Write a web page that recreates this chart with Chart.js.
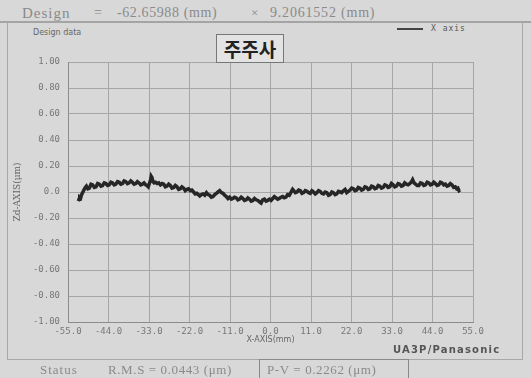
<!DOCTYPE html>
<html>
<head>
<meta charset="utf-8">
<script src="https://cdn.jsdelivr.net/npm/chart.js@4/dist/chart.umd.min.js"></script>
<style>
  html, body { margin: 0; padding: 0; }
  body { width: 531px; height: 378px; background: #d8d8d8; position: relative; overflow: hidden; }
  #plot { position: absolute; left: 0; top: 0; }
  .txt { position: absolute; white-space: nowrap; color: #8a8a8a; font-family: "Liberation Serif", serif; }
</style>
</head>
<body>
<div style="position:absolute;left:0;top:21px;width:531px;height:0;border-top:2px solid #a4a4a4;"></div>
<div style="position:absolute;left:7px;top:22px;width:514px;height:337px;border:1px solid #a8a8a8;border-top:none;"></div>

<div class="txt" style="left:22px;top:5px;font-size:15px;letter-spacing:1px;">Design</div>
<div class="txt" style="left:94px;top:5px;font-size:14px;">=</div>
<div class="txt" style="left:117px;top:5px;font-size:14px;letter-spacing:0.6px;">-62.65988 (mm)</div>
<div class="txt" style="left:251px;top:5px;font-size:13px;">×</div>
<div class="txt" style="left:270px;top:5px;font-size:14px;letter-spacing:0.8px;">9.2061552 (mm)</div>

<div class="txt" style="left:33px;top:28px;font-size:8px;color:#666;font-family:'DejaVu Sans',sans-serif;">Design data</div>
<div style="position:absolute;left:397px;top:28px;width:26px;height:0;border-top:2px solid #444;"></div>
<div class="txt" style="left:431px;top:24px;font-size:8px;color:#555;font-family:'DejaVu Sans Mono',monospace;letter-spacing:1px;">X axis</div>

<div style="position:absolute;left:216px;top:34px;width:66px;height:27px;border:1px solid #777;background:#e3e3e3;z-index:2;text-align:center;font:bold 19px 'Noto Sans CJK KR',sans-serif;line-height:27px;color:#222;">주주사</div>

<canvas id="plot" width="531" height="378"></canvas>

<div class="txt" style="left:393px;top:344px;font:bold 10px 'DejaVu Sans',sans-serif;letter-spacing:1.2px;color:#555;">UA3P/Panasonic</div>

<div class="txt" style="left:40px;top:362px;font-size:13px;letter-spacing:1px;">Status</div>
<div class="txt" style="left:108px;top:362px;font-size:13px;letter-spacing:0.6px;">R.M.S = 0.0443 (μm)</div>
<div style="position:absolute;left:259px;top:359px;width:148px;height:22px;border:1px solid #8a8a8a;"></div>
<div class="txt" style="left:267px;top:362px;font-size:13px;letter-spacing:0.6px;">P-V = 0.2262 (μm)</div>

<script>
// X-AXIS positions (mm)
const xValues = [
  -52.2, -52.0, -51.8, -51.55, -51.3, -50.95, -50.6, -50.3, -50.0, -49.6,
  -49.2, -48.75, -48.3, -47.85, -47.4, -46.95, -46.5, -46.05, -45.6, -45.15,
  -44.7, -44.25, -43.8, -43.35, -42.9, -42.45, -42.0, -41.55, -41.1, -40.65,
  -40.2, -39.75, -39.3, -38.85, -38.4, -37.95, -37.5, -37.05, -36.6, -36.15,
  -35.7, -35.25, -34.8, -34.35, -33.9, -33.55, -33.2, -32.9, -32.6, -32.4,
  -32.2, -31.9, -31.6, -31.2, -30.8, -30.35, -29.9, -29.45, -29.0, -28.55,
  -28.1, -27.65, -27.2, -26.75, -26.3, -25.85, -25.4, -24.95, -24.5, -24.05,
  -23.6, -23.15, -22.7, -22.25, -21.8, -21.35, -20.9, -20.45, -20.0, -19.6,
  -19.2, -18.75, -18.3, -17.85, -17.4, -16.95, -16.5, -16.05, -15.6, -15.15,
  -14.7, -14.25, -13.8, -13.35, -12.9, -12.45, -12.0, -11.55, -11.1, -10.65,
  -10.2, -9.75, -9.3, -8.85, -8.4, -7.95, -7.5, -7.05, -6.6, -6.15,
  -5.7, -5.25, -4.8, -4.35, -3.9, -3.45, -3.0, -2.55, -2.1, -1.65,
  -1.2, -0.75, -0.3, 0.15, 0.6, 1.05, 1.5, 1.95, 2.4, 2.85,
  3.3, 3.75, 4.2, 4.65, 5.1, 5.4, 5.7, 6.0, 6.3, 6.75,
  7.2, 7.65, 8.1, 8.55, 9.0, 9.45, 9.9, 10.35, 10.8, 11.25,
  11.7, 12.15, 12.6, 13.05, 13.5, 13.95, 14.4, 14.85, 15.3, 15.75,
  16.2, 16.65, 17.1, 17.55, 18.0, 18.45, 18.9, 19.35, 19.8, 20.25,
  20.7, 21.15, 21.6, 22.05, 22.5, 22.95, 23.4, 23.85, 24.3, 24.75,
  25.2, 25.65, 26.1, 26.55, 27.0, 27.45, 27.9, 28.35, 28.8, 29.25,
  29.7, 30.15, 30.6, 31.05, 31.5, 31.95, 32.4, 32.85, 33.3, 33.75,
  34.2, 34.65, 35.1, 35.55, 36.0, 36.45, 36.9, 37.35, 37.8, 38.2,
  38.6, 39.0, 39.4, 39.85, 40.3, 40.75, 41.2, 41.65, 42.1, 42.55,
  43.0, 43.45, 43.9, 44.35, 44.8, 45.25, 45.7, 46.15, 46.6, 47.05,
  47.5, 47.95, 48.4, 48.85, 49.3, 49.75, 50.2, 50.55, 50.9, 51.2,
  51.5
];

// Zd-AXIS deviation (um)
const zValues = [
  -0.07, -0.055, -0.04, -0.045, -0.02, 0.0, 0.02, 0.035, 0.045, 0.025,
  0.03, 0.06, 0.055, 0.035, 0.04, 0.065, 0.06, 0.045, 0.05, 0.07,
  0.065, 0.05, 0.055, 0.075, 0.07, 0.055, 0.06, 0.08, 0.075, 0.06,
  0.065, 0.085, 0.08, 0.065, 0.07, 0.085, 0.075, 0.06, 0.065, 0.08,
  0.07, 0.055, 0.06, 0.07, 0.055, 0.05, 0.04, 0.065, 0.09, 0.12,
  0.11, 0.08, 0.07, 0.075, 0.065, 0.07, 0.055, 0.065, 0.06, 0.04,
  0.045, 0.06, 0.05, 0.03, 0.035, 0.05, 0.04, 0.02, 0.025, 0.04,
  0.03, 0.01, 0.02, 0.025, 0.01, 0.015, 0.0, -0.015, -0.01, -0.02,
  -0.03, -0.02, -0.015, -0.025, -0.005, -0.02, -0.025, -0.04, -0.035, -0.02,
  -0.01, 0.0, 0.01, -0.005, -0.01, -0.025, -0.035, -0.05, -0.04, -0.055,
  -0.05, -0.04, -0.045, -0.06, -0.055, -0.04, -0.05, -0.065, -0.06, -0.045,
  -0.055, -0.07, -0.065, -0.05, -0.06, -0.065, -0.075, -0.085, -0.06, -0.055,
  -0.07, -0.065, -0.055, -0.065, -0.05, -0.035, -0.045, -0.055, -0.05, -0.04,
  -0.035, -0.045, -0.04, -0.02, -0.025, -0.01, 0.005, 0.02, 0.01, -0.005,
  0.0, 0.015, 0.01, -0.01, -0.005, 0.01, 0.005, -0.005, -0.01, 0.01,
  0.0, -0.015, -0.005, 0.01, 0.005, -0.01, -0.015, 0.0, -0.005, -0.025,
  -0.02, 0.0, -0.005, -0.02, -0.015, 0.005, 0.0, -0.005, 0.01, 0.02,
  -0.005, 0.005, 0.015, 0.03, 0.025, 0.01, 0.015, 0.035, 0.03, 0.015,
  0.02, 0.04, 0.035, 0.02, 0.025, 0.045, 0.04, 0.025, 0.03, 0.05,
  0.045, 0.03, 0.035, 0.055, 0.05, 0.035, 0.04, 0.065, 0.055, 0.04,
  0.045, 0.065, 0.06, 0.045, 0.05, 0.07, 0.06, 0.055, 0.065, 0.075,
  0.095, 0.07, 0.06, 0.05, 0.05, 0.07, 0.065, 0.05, 0.055, 0.075,
  0.07, 0.055, 0.06, 0.075, 0.065, 0.05, 0.055, 0.075, 0.07, 0.055,
  0.06, 0.045, 0.05, 0.065, 0.055, 0.035, 0.04, 0.025, 0.03, 0.01,
  0.015
];

const xTickStep = 11;
const yTickStep = 0.2;

const points = xValues.map((x, i) => ({ x: x, y: zValues[i] }));

const tickFont = { family: "'DejaVu Sans Mono', monospace", size: 9 };
const gridColor = '#a6a6a6';

new Chart(document.getElementById('plot').getContext('2d'), {
  type: 'scatter',
  data: {
    datasets: [{
      label: 'X axis',
      data: points,
      showLine: true,
      borderColor: '#262626',
      borderWidth: 3.5,
      pointRadius: 0,
      tension: 0
    }]
  },
  options: {
    responsive: false,
    animation: false,
    layout: { padding: { top: 62, right: 58, bottom: 32, left: 0 } },
    plugins: { legend: { display: false }, tooltip: { enabled: false } },
    scales: {
      x: {
        type: 'linear',
        min: -55,
        max: 55,
        afterFit: (s) => { s.height = 24; },
        ticks: {
          stepSize: xTickStep,
          padding: 4,
          color: '#777',
          font: tickFont,
          maxRotation: 0,
          callback: (v) => (Math.abs(v) < 1e-9 ? 0 : v).toFixed(1)
        },
        grid: { color: gridColor, drawTicks: false },
        border: { color: '#8c8c8c' },
        title: {
          display: true,
          text: 'X-AXIS(mm)',
          color: '#666',
          font: { family: "'DejaVu Sans', sans-serif", size: 8 },
          padding: { top: 0, bottom: 1 }
        }
      },
      y: {
        min: -1,
        max: 1,
        afterFit: (s) => { s.width = 68; },
        ticks: {
          stepSize: yTickStep,
          padding: 8,
          color: '#777',
          font: tickFont,
          callback: (v) => Math.abs(v) < 1e-9 ? '0.0' : v.toFixed(2)
        },
        grid: { color: gridColor, drawTicks: false },
        border: { color: '#8c8c8c' },
        title: {
          display: true,
          text: 'Zd-AXIS(μm)',
          color: '#666',
          font: { family: "'DejaVu Serif', serif", size: 9 },
          padding: { top: 12, bottom: 0 }
        }
      }
    }
  }
});
</script>
</body>
</html>
